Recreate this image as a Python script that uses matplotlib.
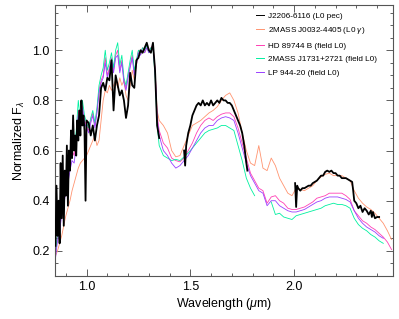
import numpy as np
import matplotlib
matplotlib.use("Agg")
import matplotlib.pyplot as plt
from matplotlib.ticker import MultipleLocator

plt.rcParams['font.family'] = ['Liberation Sans', 'DejaVu Sans']
plt.rcParams['mathtext.fontset'] = 'custom'
plt.rcParams['mathtext.rm'] = 'Liberation Sans'
plt.rcParams['mathtext.it'] = 'Liberation Sans:italic'

# shared wavelength grid for the comparison spectra (micron)
wave_j = [0.85, 0.86, 0.87, 0.88, 0.89, 0.90, 0.91, 0.92, 0.93, 0.94,
          0.95, 0.96, 0.97, 0.98, 0.99, 1.00, 1.01, 1.02, 1.03, 1.04,
          1.05, 1.06, 1.07, 1.08, 1.09, 1.10, 1.11, 1.12, 1.13, 1.14,
          1.15, 1.16, 1.17, 1.18, 1.19, 1.20, 1.21, 1.22, 1.23, 1.24,
          1.25, 1.26, 1.27, 1.28, 1.29, 1.30, 1.31, 1.32, 1.33, 1.34,
          1.35]
wave_hk = [1.37, 1.39, 1.41, 1.43, 1.45, 1.47, 1.49, 1.51, 1.53, 1.55,
           1.57, 1.59, 1.61, 1.63, 1.65, 1.67, 1.69, 1.71, 1.73, 1.75,
           1.77, 1.79, 1.81, 1.83, 1.85, 1.87, 1.89, 1.91, 1.93, 1.95,
           1.97, 1.99, 2.01, 2.03, 2.05, 2.07, 2.09, 2.11, 2.13, 2.15,
           2.17, 2.19, 2.21, 2.23, 2.25, 2.27, 2.29, 2.31, 2.33, 2.35,
           2.37, 2.39, 2.41, 2.43, 2.45, 2.47]
nan = np.nan

# 2MASS J0032-4405 (L0 gamma)
j0032_j = [0.18, 0.20, 0.23, 0.26, 0.30, 0.34, 0.37, 0.40, 0.44, 0.47,
           0.50, 0.53, 0.55, 0.56, 0.57, 0.58, 0.60, 0.62, 0.64, 0.66,
           0.62, 0.64, 0.72, 0.80, 0.84, 0.83, 0.86, 0.84, 0.86, 0.88,
           0.85, 0.89, 0.86, 0.88, 0.82, 0.80, 0.86, 0.92, 0.88, 0.94,
           0.98, 0.99, 1.00, 0.99, 1.01, 1.00, 1.00, 1.01, 0.92, 0.76,
           0.72]
j0032_hk = [0.70, 0.67, 0.60, 0.575, 0.58, 0.62, 0.66, 0.70, 0.71, 0.72,
            0.735, 0.75, 0.76, 0.775, 0.80, 0.82, 0.83, 0.80, 0.75, 0.67,
            0.60, 0.55, 0.54, 0.62, 0.53, 0.52, 0.57, 0.54, 0.49, 0.46,
            0.43, 0.42, 0.45, 0.445, 0.44, 0.45, 0.46, 0.48, 0.495, 0.505,
            0.51, 0.50, 0.50, 0.50, 0.49, 0.48, 0.44, 0.41, 0.39, 0.375,
            0.365, 0.35, 0.33, 0.31, 0.28, 0.245]

# HD 89744 B (field L0)
hd89744_j = [0.20, 0.26, 0.30, 0.36, 0.40, 0.46, 0.50, 0.56, 0.60, 0.58,
             0.66, 0.76, 0.70, 0.78, 0.72, 0.70, 0.68, 0.72, 0.75, 0.70,
             0.76, 0.84, 0.88, 0.90, 0.97, 0.90, 0.93, 0.97, 0.92, 0.98,
             1.00, 0.92, 0.96, 0.88, 0.85, 0.90, 0.94, 0.98, 0.91, 0.95,
             1.00, 0.99, 1.01, 1.00, 1.02, 1.00, 1.01, 1.02, 0.93, 0.74,
             0.68]
hd89744_hk = [0.63, 0.61, 0.57, 0.56, 0.555, 0.57, 0.60, 0.63, 0.67, 0.70,
              0.72, 0.73, 0.72, 0.735, 0.745, 0.75, 0.75, 0.735, 0.69, 0.63,
              0.57, 0.51, 0.48, 0.45, 0.44, 0.39, 0.415, 0.42, 0.40, 0.39,
              0.37, 0.365, 0.365, 0.37, 0.375, 0.385, 0.395, 0.41, 0.415, 0.42,
              0.43, 0.43, 0.43, 0.43, 0.42, 0.405, 0.36, 0.34, 0.32, 0.31,
              0.295, 0.285, 0.27, 0.255, 0.235, 0.205]

# 2MASS J1731+2721 (field L0)
j1731_j = [0.19, 0.27, 0.31, 0.38, 0.42, 0.48, 0.52, 0.58, 0.62, 0.60,
           0.68, 0.80, 0.72, 0.80, 0.74, 0.71, 0.69, 0.73, 0.76, 0.71,
           0.77, 0.86, 0.90, 0.93, 1.00, 0.92, 0.95, 0.99, 0.93, 1.00,
           1.03, 0.94, 0.98, 0.89, 0.86, 0.91, 0.96, 1.00, 0.92, 0.96,
           1.00, 0.99, 1.01, 1.00, 1.02, 0.99, 1.01, 1.01, 0.90, 0.70,
           0.62]
j1731_hk = [0.58, 0.57, 0.56, 0.565, 0.56, 0.575, 0.59, 0.61, 0.63, 0.65,
            0.67, 0.68, 0.685, 0.69, 0.70, 0.70, 0.69, 0.68, 0.62, 0.56,
            0.49, 0.45, 0.42, nan, nan, nan, 0.395, 0.345, 0.35, 0.335,
            0.33, 0.325, 0.34, 0.345, 0.35, 0.355, 0.36, 0.365, 0.37, 0.38,
            0.385, 0.39, 0.385, 0.385, 0.38, 0.37, 0.33, 0.305, 0.29, 0.28,
            0.265, 0.255, 0.24, 0.23, nan, nan]

# LP 944-20 (field L0)
lp944_j = [0.17, 0.24, 0.28, 0.34, 0.38, 0.44, 0.47, 0.52, 0.56, 0.55,
           0.62, 0.74, 0.69, 0.77, 0.71, 0.69, 0.67, 0.71, 0.74, 0.69,
           0.75, 0.83, 0.87, 0.89, 0.95, 0.89, 0.92, 0.96, 0.91, 0.97,
           0.98, 0.91, 0.95, 0.87, 0.84, 0.89, 0.93, 0.97, 0.90, 0.94,
           0.99, 0.98, 1.00, 0.99, 1.01, 0.99, 1.00, 1.01, 0.92, 0.73,
           0.66]
lp944_hk = [0.60, 0.58, 0.55, 0.53, 0.54, 0.56, 0.58, 0.61, 0.64, 0.67,
            0.69, 0.70, 0.70, 0.72, 0.73, 0.735, 0.73, 0.72, 0.67, 0.61,
            0.55, 0.50, 0.47, 0.44, 0.43, 0.38, 0.40, 0.40, 0.38, 0.37,
            0.36, 0.355, 0.355, 0.36, 0.365, 0.375, 0.385, 0.395, 0.40, 0.41,
            0.415, 0.415, 0.415, 0.41, 0.405, 0.395, 0.36, 0.33, 0.31, 0.295,
            0.285, 0.275, 0.26, 0.25, nan, nan]

# J2206-6116 (L0 pec), three pieces separated by telluric gaps
j2206_wave_j = [0.850, 0.855, 0.860, 0.865, 0.870, 0.875, 0.880, 0.885, 0.890, 0.895,
                0.900, 0.905, 0.910, 0.915, 0.920, 0.925, 0.930, 0.935, 0.940, 0.945,
                0.950, 0.955, 0.960, 0.965, 0.970, 0.975, 0.980, 0.985, 0.990, 0.995,
                1.000, 1.01, 1.02, 1.03, 1.04, 1.05, 1.06, 1.07, 1.08, 1.09,
                1.10, 1.11, 1.12, 1.13, 1.14, 1.15, 1.16, 1.17, 1.18, 1.19,
                1.20, 1.21, 1.22, 1.23, 1.24, 1.25, 1.26, 1.27, 1.28, 1.29,
                1.30, 1.31, 1.32, 1.33, 1.34, 1.35]
j2206_flux_j = [0.22, 0.46, 0.26, 0.40, 0.23, 0.55, 0.33, 0.58, 0.30, 0.52,
                0.42, 0.62, 0.38, 0.60, 0.52, 0.68, 0.57, 0.74, 0.60, 0.66,
                0.58, 0.72, 0.64, 0.76, 0.66, 0.80, 0.70, 0.74, 0.68, 0.40,
                0.72, 0.71, 0.66, 0.70, 0.64, 0.70, 0.74, 0.85, 0.87, 0.84,
                0.89, 0.88, 0.96, 0.76, 0.90, 0.86, 0.82, 0.84, 0.80, 0.73,
                0.78, 0.91, 0.86, 0.85, 0.96, 0.97, 1.00, 0.99, 1.01, 1.03,
                1.00, 0.99, 1.03, 0.92, 0.70, 0.65]
j2206_wave_h = [1.470, 1.475, 1.48, 1.49, 1.50, 1.51, 1.52, 1.53, 1.54, 1.55,
                1.56, 1.57, 1.58, 1.59, 1.60, 1.61, 1.62, 1.63, 1.64, 1.65,
                1.66, 1.67, 1.68, 1.69, 1.70, 1.71, 1.72, 1.73, 1.74, 1.75,
                1.76, 1.77, 1.775]
j2206_flux_h = [0.60, 0.54, 0.62, 0.67, 0.70, 0.74, 0.76, 0.78, 0.79, 0.78,
                0.80, 0.78, 0.79, 0.78, 0.80, 0.78, 0.79, 0.80, 0.79, 0.81,
                0.80, 0.80, 0.79, 0.79, 0.78, 0.76, 0.74, 0.72, 0.70, 0.67,
                0.62, 0.55, 0.52]
j2206_wave_k = [2.005, 2.010, 2.015, 2.02, 2.03, 2.04, 2.05, 2.06, 2.07, 2.08,
                2.09, 2.10, 2.11, 2.12, 2.13, 2.14, 2.15, 2.16, 2.17, 2.18,
                2.19, 2.20, 2.21, 2.22, 2.23, 2.24, 2.25, 2.26, 2.27, 2.28,
                2.285, 2.29, 2.30, 2.31, 2.32, 2.33, 2.34, 2.35, 2.36, 2.37,
                2.375, 2.38, 2.39, 2.40, 2.41]
j2206_flux_k = [0.47, 0.375, 0.46, 0.45, 0.44, 0.45, 0.45, 0.455, 0.46, 0.46,
                0.47, 0.475, 0.48, 0.49, 0.50, 0.50, 0.515, 0.52, 0.515, 0.52,
                0.51, 0.51, 0.50, 0.50, 0.49, 0.49, 0.49, 0.485, 0.48, 0.475,
                0.44, 0.40, 0.39, 0.37, 0.38, 0.355, 0.37, 0.36, 0.345, 0.36,
                0.335, 0.355, 0.33, 0.335, 0.335]

wave = wave_j + wave_hk
j2206_wave = j2206_wave_j + [nan] + j2206_wave_h + [nan] + j2206_wave_k
j2206_flux = j2206_flux_j + [nan] + j2206_flux_h + [nan] + j2206_flux_k

fig = plt.figure(figsize=(3.99, 3.19), dpi=100)
ax = fig.add_axes([0.139, 0.135, 0.845, 0.849])

ax.plot(j2206_wave, j2206_flux, color='black', lw=1.3, zorder=5, label='J2206-6116 (L0 pec)')
ax.plot(wave, j0032_j + j0032_hk, color='#ff9470', lw=0.6, label=r'2MASS J0032-4405 (L0 $\gamma$)')
ax.plot(wave, hd89744_j + hd89744_hk, color='#ff3fb4', lw=0.6, label='HD 89744 B (field L0)')
ax.plot(wave, j1731_j + j1731_hk, color='#00f0a0', lw=0.6, label='2MASS J1731+2721 (field L0)')
ax.plot(wave, lp944_j + lp944_hk, color='#9a40ff', lw=0.6, label='LP 944-20 (field L0)')

ax.set_xlim(0.85, 2.475)
ax.set_ylim(0.1, 1.18)
ax.set_xticks([1.0, 1.5, 2.0])
ax.set_yticks([0.2, 0.4, 0.6, 0.8, 1.0])
ax.xaxis.set_minor_locator(MultipleLocator(0.1))
ax.yaxis.set_minor_locator(MultipleLocator(0.05))
ax.tick_params(which='both', direction='in', top=True, right=True, width=0.6,
               color='#444444', labelsize=9, pad=4)
ax.tick_params(which='major', length=5)
ax.tick_params(which='minor', length=2.5)
for s in ax.spines.values():
    s.set_color('#555555')
    s.set_linewidth(0.8)

ax.set_xlabel(r'Wavelength ($\mu$m)', fontsize=9, labelpad=2)
ax.set_ylabel(r'Normalized F$_\lambda$', fontsize=9, labelpad=4)

leg = ax.legend(loc='upper left', bbox_to_anchor=(0.595, 0.975), frameon=False,
                fontsize=5.9, handlelength=1.0, handletextpad=0.4, labelspacing=0.7,
                borderpad=0, borderaxespad=0)
for h in leg.get_lines():
    h.set_linewidth(0.7)

fig.savefig('out.png', dpi=100)
